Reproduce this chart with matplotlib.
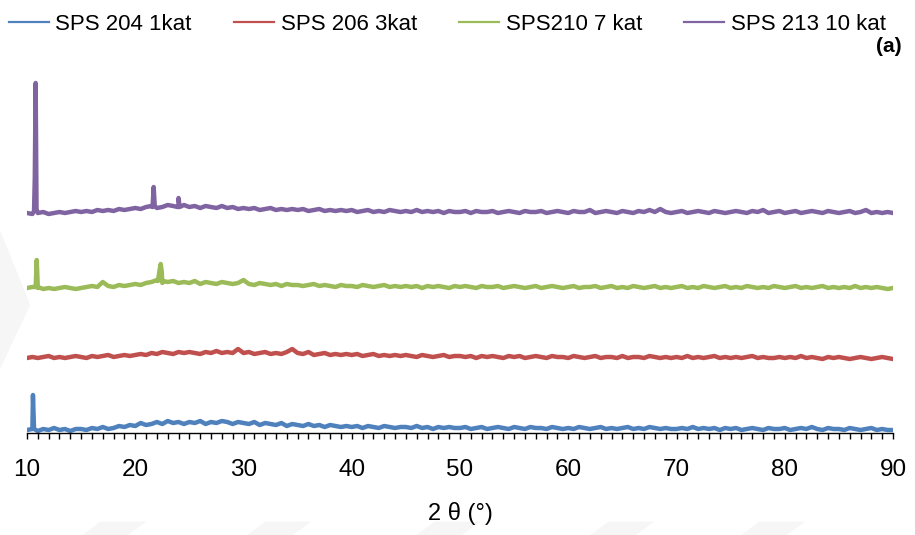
import numpy as np
import matplotlib.pyplot as plt
from matplotlib.patches import Polygon
from matplotlib.ticker import MultipleLocator

plt.rcParams['font.family'] = ['Liberation Sans', 'DejaVu Sans']

#### Diffraction data (intensity above each pattern's own baseline) ####
two_theta = np.arange(10, 90.25, 0.5)

labels = ['SPS 204 1kat', 'SPS 206 3kat', 'SPS210 7 kat', 'SPS 213 10 kat']
colors = ['#4f81bd', '#c0504d', '#9bbb59', '#8064a2']
offsets = [3, 75, 145, 220]

sps204 = [0, 1, -1, 1, 0, 2, 0, 1, -1, 1,
          1, 0, 2, 1, 3, 1, 2, 4, 3, 5,
          4, 7, 5, 6, 8, 6, 9, 7, 8, 6,
          8, 7, 9, 6, 8, 7, 9, 8, 6, 8,
          7, 6, 8, 5, 7, 6, 5, 7, 4, 6,
          5, 4, 6, 4, 5, 3, 5, 4, 3, 4,
          3, 4, 2, 4, 3, 2, 4, 3, 2, 3,
          3, 2, 4, 2, 3, 1, 3, 2, 3, 2,
          2, 3, 1, 2, 3, 1, 2, 3, 2, 1,
          3, 2, 1, 3, 2, 2, 1, 3, 2, 1,
          2, 1, 3, 2, 1, 2, 3, 1, 2, 1,
          2, 3, 1, 2, 1, 3, 2, 1, 2, 1,
          1, 2, 1, 3, 1, 2, 1, 2, 0, 2,
          1, 2, 0, 1, 2, 1, 0, 2, 1, 1,
          2, 0, 1, 2, 1, 3, 1, 0, 2, 1,
          1, 0, 2, 1, 0, 1, 2, 0, 1, 0,
          0]

sps206 = [0, 1, 0, 1, 2, 0, 1, 0, 1, 2,
          1, 0, 2, 1, 2, 3, 1, 2, 3, 2,
          3, 4, 3, 5, 4, 6, 5, 4, 6, 5,
          6, 5, 4, 6, 5, 7, 5, 6, 5, 9,
          5, 6, 4, 5, 6, 4, 5, 4, 6, 9,
          5, 4, 6, 3, 4, 5, 3, 4, 3, 4,
          3, 4, 2, 3, 4, 2, 3, 2, 3, 2,
          3, 2, 1, 3, 2, 1, 2, 3, 1, 2,
          2, 1, 2, 0, 2, 1, 2, 1, 0, 2,
          1, 2, 0, 1, 2, 1, 0, 2, 1, 1,
          0, 2, 1, 0, 1, 2, 0, 1, 1, 0,
          2, 0, 1, 1, 0, 2, 1, 0, 1, 0,
          1, 0, 2, 0, 1, 0, 1, 2, 0, 1,
          0, 1, 0, 1, 2, 0, 1, 0, 0, 1,
          0, 1, 0, 2, 0, 1, 0, -1, 1, 0,
          1, 0, -1, 0, 1, 0, -1, 0, 1, 0,
          -1]

sps210 = [0, 1, 0, -1, 0, -1, 0, 1, 0, -1,
          0, 1, 2, 1, 6, 2, 1, 3, 2, 3,
          4, 3, 5, 6, 8, 5, 6, 7, 5, 6,
          5, 7, 4, 6, 5, 4, 6, 5, 4, 5,
          8, 4, 3, 5, 4, 3, 4, 2, 4, 3,
          3, 2, 3, 4, 2, 3, 2, 1, 3, 2,
          2, 1, 3, 2, 1, 2, 3, 1, 2, 1,
          2, 1, 2, 0, 2, 1, 2, 1, 0, 2,
          1, 2, 1, 0, 2, 1, 1, 2, 0, 1,
          2, 1, 0, 1, 2, 0, 1, 2, 1, 0,
          1, 2, 0, 1, 1, 2, 0, 1, 2, 0,
          1, 0, 2, 1, 0, 1, 2, 0, 1, 0,
          1, 2, 0, 1, 0, 2, 1, 0, 1, 2,
          0, 1, 0, 2, 1, 0, 1, 0, 2, 1,
          0, 1, 2, 0, 1, 0, 1, 2, 0, 1,
          0, 1, 0, 2, 0, 1, 0, 1, 0, -1,
          0]

sps213 = [0, -1, 0, 1, -1, 0, 1, 0, 1, 2,
          1, 2, 1, 3, 2, 3, 2, 4, 3, 4,
          5, 4, 6, 7, 5, 6, 8, 7, 6, 8,
          6, 7, 5, 7, 6, 5, 7, 5, 6, 4,
          5, 4, 5, 3, 4, 5, 3, 4, 3, 4,
          3, 4, 2, 3, 4, 2, 3, 2, 3, 2,
          3, 1, 2, 3, 1, 2, 1, 3, 2, 1,
          2, 1, 3, 1, 2, 1, 2, 0, 2, 1,
          1, 2, 0, 2, 1, 1, 2, 0, 1, 2,
          1, 0, 2, 1, 1, 2, 0, 1, 2, 1,
          0, 2, 1, 1, 3, 0, 1, 2, 1, 0,
          2, 1, 0, 2, 1, 3, 1, 4, 1, 0,
          1, 2, 0, 1, 2, 1, 0, 2, 1, 0,
          1, 2, 1, 0, 2, 1, 3, 0, 1, 2,
          0, 1, 2, 0, 1, 2, 1, 0, 2, 1,
          0, 1, 2, 0, 1, 3, 0, 1, 0, 1,
          0]

# sharp reflections sitting on top of the background
peak_x = [[10.45, 10.55, 10.65],
          [],
          [10.8, 10.9, 11.0, 22.1, 22.25, 22.35, 22.45, 22.6],
          [10.65, 10.72, 10.8, 10.88, 21.6, 21.7, 21.8, 23.9, 24.0, 24.1]]
peak_y = [[1, 35, 1],
          [],
          [1, 28, 1, 7, 18, 24, 16, 7],
          [2, 35, 130, 4, 6, 26, 7, 6, 15, 6]]

series = [sps204, sps206, sps210, sps213]

fig = plt.figure(figsize=(9.15, 5.35), dpi=100)

# faint background chevrons, kept behind the axes
for pts in ([(0.0, 0.57), (0.033, 0.43), (0.0, 0.31)],
            [(0.09, 0.0), (0.14, 0.0), (0.16, 0.025), (0.11, 0.025)],
            [(0.27, 0.0), (0.32, 0.0), (0.34, 0.025), (0.29, 0.025)],
            [(0.455, 0.0), (0.505, 0.0), (0.525, 0.025), (0.475, 0.025)],
            [(0.645, 0.0), (0.695, 0.0), (0.715, 0.025), (0.665, 0.025)],
            [(0.81, 0.0), (0.86, 0.0), (0.88, 0.025), (0.83, 0.025)]):
    fig.patches.append(Polygon(pts, closed=True, transform=fig.transFigure,
                               facecolor='#f6f6f6', edgecolor='none', zorder=-1))

ax = fig.add_axes([27/915, 102/535, 866/915, 373/535])
ax.patch.set_alpha(0)

for vals, px, py, off, c, lab in zip(series, peak_x, peak_y, offsets, colors, labels):
    x = np.concatenate([two_theta, px])
    y = np.concatenate([np.array(vals, float), np.array(py, float)])
    order = np.argsort(x, kind='stable')
    ax.plot(x[order], y[order] + off, color=c, lw=3.2, label=lab)

ax.set_xlim(10, 90)
ax.set_ylim(0, 373)
for side in ['left', 'right', 'top']:
    ax.spines[side].set_visible(False)
ax.spines['bottom'].set_linewidth(1.0)
ax.set_yticks([])
ax.xaxis.set_major_locator(MultipleLocator(10))
ax.xaxis.set_minor_locator(MultipleLocator(1))
ax.tick_params(axis='x', which='both', direction='out', length=4, width=1)
ax.tick_params(axis='x', which='major', labelsize=17.5, pad=15)
ax.set_xlabel('2 θ (°)', fontsize=17, labelpad=15)

ax.text(1.01, 1.035, '(a)', transform=ax.transAxes, ha='right', va='center',
        fontsize=15, fontweight='bold')

leg = fig.legend(loc='upper center', bbox_to_anchor=(0.489, 1.012), ncol=4, frameon=False,
                 fontsize=16, handlelength=1.8, handletextpad=0.3, columnspacing=1.9)
for h in leg.get_lines():
    h.set_linewidth(1.6)

fig.savefig('out.png', dpi=100)
